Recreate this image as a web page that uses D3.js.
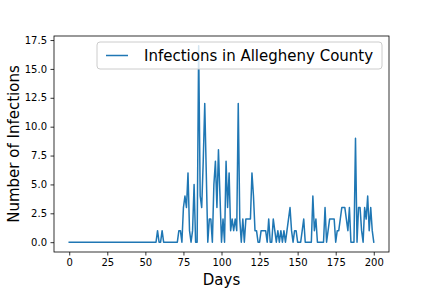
<!DOCTYPE html>
<html>
<head>
<meta charset="utf-8">
<script src="https://cdn.jsdelivr.net/npm/d3@7"></script>
<style>
  body { margin: 0; background: #fff; }
  svg { display: block; font-family: "DejaVu Sans", sans-serif; }
</style>
</head>
<body>
<div id="plot"></div>
<script>
// daily infections, day 0..200
var days = d3.range(0, 201);
var infections = [
  // 0-57 nothing
  0,0,0,0,0,0,0,0,0,0, 0,0,0,0,0,0,0,0,0,0,
  0,0,0,0,0,0,0,0,0,0, 0,0,0,0,0,0,0,0,0,0,
  0,0,0,0,0,0,0,0,0,0, 0,0,0,0,0,0,0,0,
  // 58-99
  1,0,0,1,0,0,0,0,0,0, 0,0,0,0,1,1,0,3,4,3,
  6,1,0,1,5,0,0,17,4,3, 7,12,6,0,2,2,0,5,7,3,
  8,4,
  // 100-149
  0,2,0,7,3,6,1,2,1,2, 1,12,2,0,2,0,2,2,2,2,
  6,4,1,1,0,0,1,1,1,1, 0,2,0,0,2,1,0,1,0,1,
  0,1,0,1,2,3,1,0,1,1,
  // 150-200
  0,0,0,1,2,0,0,0,0,0, 4,1,2,0,0,0,0,0,3,0,
  1,2,2,2,2,0,1,1,2,3, 3,3,2,1,3,0,0,0,9,0,
  3,3,1,0,3,2,4,1,3,1, 0
];
var xTicks = [0, 25, 50, 75, 100, 125, 150, 175, 200];
var yTicks = [0, 2.5, 5, 7.5, 10, 12.5, 15, 17.5];
var seriesName = "Infections in Allegheny County";

var data = days.map(function(d, i) { return { x: d, y: infections[i] }; });

var W = 432, H = 288;
var margin = { top: 36, right: 43, bottom: 36, left: 54 };
var width = W - margin.left - margin.right,
  height = H - margin.top - margin.bottom;

var xScale = d3.scaleLinear()
  .domain([-10, 210])
  .range([0, width]);

var yMax = d3.max(infections);
var yScale = d3.scaleLinear()
  .domain([-0.05 * yMax, yMax * 1.05])
  .range([height, 0]);

var svg = d3.select("#plot").append("svg")
  .attr("width", W)
  .attr("height", H);

var g = svg.append("g")
  .attr("transform", "translate(" + margin.left + "," + margin.top + ")");

var xAxis = d3.axisBottom(xScale).tickValues(xTicks).tickSize(3.5).tickPadding(3.5)
  .tickFormat(d3.format("d"));
var yAxis = d3.axisLeft(yScale).tickValues(yTicks).tickSize(3.5).tickPadding(3.5)
  .tickFormat(d3.format(".1f"));

var line = d3.line()
  .x(function(d) { return xScale(d.x); })
  .y(function(d) { return yScale(d.y); });

g.append("path")
  .datum(data)
  .attr("d", line)
  .attr("fill", "none")
  .attr("stroke", "#1f77b4")
  .attr("stroke-width", 1.5)
  .attr("stroke-linejoin", "round")
  .attr("stroke-linecap", "square");

// frame
g.append("rect")
  .attr("width", width)
  .attr("height", height)
  .attr("fill", "none")
  .attr("stroke", "#000")
  .attr("stroke-width", 0.8);

var gx = g.append("g")
  .attr("class", "x axis")
  .attr("transform", "translate(0," + height + ")")
  .call(xAxis);
var gy = g.append("g")
  .attr("class", "y axis")
  .call(yAxis);

[gx, gy].forEach(function(ax) {
  ax.select(".domain").remove();
  ax.selectAll(".tick line").attr("stroke", "#000").attr("stroke-width", 0.8);
  ax.selectAll(".tick text")
    .attr("fill", "#000")
    .style("font-size", "10px")
    .style("font-family", "DejaVu Sans");
});

// axis labels
svg.append("text")
  .attr("x", margin.left + width / 2)
  .attr("y", 285)
  .attr("text-anchor", "middle")
  .style("font-size", "15px")
  .text("Days");

svg.append("text")
  .attr("transform", "translate(19," + (margin.top + height / 2) + ") rotate(-90)")
  .attr("text-anchor", "middle")
  .style("font-size", "15px")
  .text("Number of Infections");

// legend
var legend = svg.append("g").attr("transform", "translate(97,42)");
legend.append("rect")
  .attr("width", 285)
  .attr("height", 27)
  .attr("rx", 3)
  .attr("fill", "#fff")
  .attr("fill-opacity", 0.8)
  .attr("stroke", "#ccc")
  .attr("stroke-width", 1);
legend.append("line")
  .attr("x1", 9).attr("x2", 31)
  .attr("y1", 13.5).attr("y2", 13.5)
  .attr("stroke", "#1f77b4")
  .attr("stroke-width", 1.5);
legend.append("text")
  .attr("x", 47)
  .attr("y", 19)
  .style("font-size", "15px")
  .text(seriesName);
</script>
</body>
</html>
